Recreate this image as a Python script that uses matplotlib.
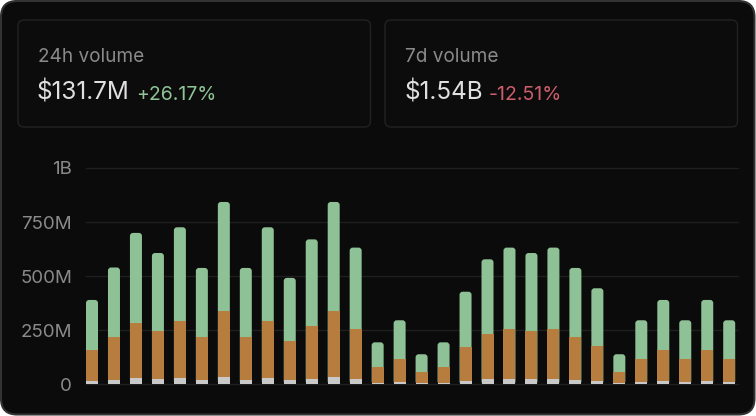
import matplotlib
matplotlib.use("Agg")
import matplotlib.pyplot as plt
from matplotlib.patches import FancyBboxPatch
import numpy as np

plt.rcParams['font.family'] = ['Inter', 'DejaVu Sans']

# stacked volume per day (millions): bottom, middle, top segment boundaries
totals = [390, 540, 700, 607, 726, 538, 843, 538, 726, 492, 670, 843, 632, 194, 296,
          139, 194, 428, 578, 632, 607, 632, 538, 444, 139, 296, 390, 296, 390, 296]
orange_tops = [157, 217, 283, 247, 293, 217, 339, 217, 293, 199, 271, 339, 256, 79, 119,
               57, 79, 173, 234, 256, 247, 256, 217, 179, 57, 119, 157, 119, 157, 119]
gray_tops = [17, 22, 29, 26, 29, 22, 34, 22, 29, 22, 26, 34, 26, 5, 11,
             6, 6, 17, 23, 25, 25, 25, 20, 17, 6, 11, 17, 11, 17, 11]

y_ticks = [0, 250, 500, 750, 1000]
y_labels = ['0', '250M', '500M', '750M', '1B']

cards = [
    ('24h volume', '$131.7M', '+26.17%', '#8fc497'),
    ('7d volume', '$1.54B', '-12.51%', '#cc5d6b'),
]

W, H = 756, 416
BG = '#0b0b0b'
GREEN = '#8fc196'
ORANGE = '#b67d3e'
GRAY = '#c9c9c9'

fig = plt.figure(figsize=(W / 100, H / 100), dpi=100, facecolor='white')

# background layer in pixel coordinates
bg = fig.add_axes([0, 0, 1, 1], zorder=0)
bg.set_xlim(0, W)
bg.set_ylim(H, 0)
bg.axis('off')
bg.add_patch(FancyBboxPatch((1, 1), W - 2.5, H - 2.5,
                            boxstyle='round,pad=0,rounding_size=16',
                            facecolor=BG, edgecolor='#333333', linewidth=1.5))

card_x = [18, 385]
card_w = 352.5
for (label, value, change, ccolor), cx in zip(cards, card_x):
    bg.add_patch(FancyBboxPatch((cx, 20), card_w, 107,
                                boxstyle='round,pad=0,rounding_size=6',
                                facecolor='#0c0c0c', edgecolor='#222222', linewidth=1))
    bg.text(cx + 20, 62.5, label, fontsize=13.7, color='#8a8a8a', va='baseline', ha='left')
    t = bg.text(cx + 19, 99.5, value, fontsize=17.5, color='#e0e0e0', va='baseline', ha='left')
    fig.canvas.draw()
    bb = t.get_window_extent()
    bg.text(bb.x1 + 6, 99.5, change, fontsize=14, color=ccolor, va='baseline', ha='left')

# chart
ax = fig.add_axes([86 / W, (H - 384.3) / H, (738 - 86) / W, (384.3 - 168) / H], zorder=1)
ax.patch.set_alpha(0)
x = np.arange(len(totals))
bw = 0.546
ax.set_xlim(-0.273, 29.40)
ax.set_ylim(0, 1000)

# aspect to keep top corners round
px_per_x = (738 - 86) / (29.40 + 0.273)
px_per_y = (384.3 - 168) / 1000
aspect = px_per_x / px_per_y
for xi, tot in zip(x, totals):
    ax.add_patch(FancyBboxPatch((xi - bw / 2, 0), bw, tot,
                                boxstyle='round,pad=0,rounding_size=0.14',
                                mutation_aspect=aspect,
                                facecolor=GREEN, edgecolor='none', zorder=2))
ax.bar(x, orange_tops, width=bw, color=ORANGE, zorder=3)
ax.bar(x, gray_tops, width=bw, color=GRAY, zorder=4)

for yt in y_ticks:
    ax.axhline(yt, color='#1f1f1f', linewidth=1, zorder=1, clip_on=False)

ax.set_yticks(y_ticks)
ax.set_yticklabels(y_labels)
ax.tick_params(axis='y', length=0, pad=10, labelsize=13.5, labelcolor='#8a8a8a')
ax.set_xticks([])
for s in ax.spines.values():
    s.set_visible(False)

fig.savefig('out.png', dpi=100, facecolor='white')
